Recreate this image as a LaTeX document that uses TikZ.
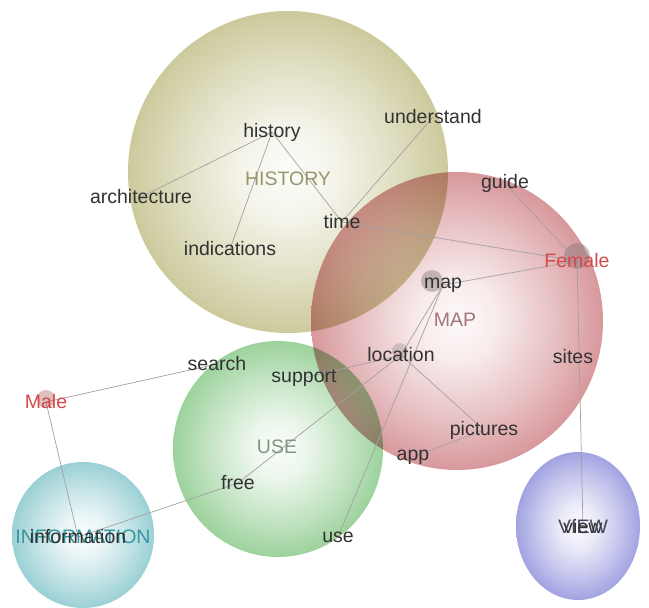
\documentclass[tikz,border=0pt]{standalone}
\usepackage{fontspec}
\setmainfont{Liberation Sans}

% soft sphere shading; its colour is read from "ballc" at use time
\pgfdeclareradialshading[ballc]{softball}{\pgfpoint{0bp}{0bp}}{%
  color(0bp)=(ballc!5!white);
  color(7bp)=(ballc!20!white);
  color(17bp)=(ballc!62!white);
  color(25bp)=(ballc);
  color(50bp)=(ballc)}

\pgfdeclarelayer{spheres}
\pgfdeclarelayer{links}
\pgfsetlayers{spheres,links,main}

\definecolor{histc}{RGB}{204,202,156}
\definecolor{mapc}{RGB}{216,152,156}
\definecolor{usec}{RGB}{156,210,156}
\definecolor{infoc}{RGB}{154,208,213}
\definecolor{viewc}{RGB}{162,162,226}
\definecolor{wordc}{RGB}{50,50,50}
\definecolor{edgec}{RGB}{165,160,160}
\definecolor{sexc}{RGB}{214,72,72}
\definecolor{histlab}{RGB}{150,150,108}
\definecolor{maplab}{RGB}{165,115,125}
\definecolor{uselab}{RGB}{128,150,128}
\definecolor{infolab}{RGB}{55,150,160}
\definecolor{viewlab}{RGB}{70,70,90}
\definecolor{blobc}{RGB}{135,120,122}

\newcommand{\wordfont}{\fontsize{19.5}{22}\selectfont}

\begin{document}
\begin{tikzpicture}[x=1pt,y=-1pt,
  word/.style={font=\wordfont, text=wordc, inner sep=0pt},
  theme/.style={font=\wordfont, inner sep=0pt},
  sex/.style={font=\wordfont, text=sexc, inner sep=0pt},
  link/.style={draw=edgec, line width=0.7pt},
  blob/.style={fill=blobc, fill opacity=0.45, draw=none}]
\useasboundingbox (0,0) rectangle (649,608);

% theme spheres, multiplied where they overlap
\begin{pgfonlayer}{spheres}
\begin{scope}[blend group=multiply]
  \colorlet{ballc}{histc}
  \shade[shading=softball] (288,172) ellipse [x radius=160, y radius=161];
  \colorlet{ballc}{mapc}
  \shade[shading=softball] (457,321) ellipse [x radius=146, y radius=149];
  \colorlet{ballc}{usec}
  \shade[shading=softball] (278,449) ellipse [x radius=105, y radius=108];
  \colorlet{ballc}{infoc}
  \shade[shading=softball] (83,535) ellipse [x radius=71, y radius=73];
  \colorlet{ballc}{viewc}
  \shade[shading=softball] (578,526) ellipse [x radius=62, y radius=74];
\end{scope}
\end{pgfonlayer}

% node markers
\fill[blob] (577,256) circle (13);
\fill[blob] (432,281) circle (11);
\fill[blob, fill opacity=0.3] (400,351) circle (8);
\fill[blob, fill=sexc!55!blobc, fill opacity=0.4] (46,399) circle (9);

% theme labels
\node[theme, text=histlab] (HIST) at (288,179) {HISTORY};
\node[theme, text=maplab]  (MAPL) at (455,320) {MAP};
\node[theme, text=uselab]  (USEL) at (277,447) {USE};
\node[theme, text=infolab] (INFO) at (83,537) {INFORMATION};
\node[theme, text=viewlab] (VIEWL) at (583,527) {VIEW};

% words
\node[word] (history)      at (272,132) {history};
\node[word] (understand)   at (433,117) {understand};
\node[word] (architecture) at (141,197) {architecture};
\node[word] (time)         at (342,222) {time};
\node[word] (indications)  at (230,249) {indications};
\node[word] (guide)        at (505,183) {guide};
\node[sex]  (female)       at (577,261) {Female};
\node[word] (map)          at (443,285) {map};
\node[word] (location)     at (401,355) {location};
\node[word] (sites)        at (573,357) {sites};
\node[word] (search)       at (217,364) {search};
\node[word] (support)      at (304,378) {support};
\node[sex]  (male)         at (46,402) {Male};
\node[word] (pictures)     at (484,430) {pictures};
\node[word] (app)          at (413,457) {app};
\node[word] (free)         at (238,483) {free};
\node[word] (information)  at (78,537) {information};
\node[word] (use)          at (338,537) {use};
\node[word] (view)         at (583,527) {view};

% connections, under the words
\begin{pgfonlayer}{links}
\draw[link] (history.center) -- (architecture.center);
\draw[link] (history.center) -- (indications.center);
\draw[link] (history.center) -- (time.center);
\draw[link] (understand.center) -- (time.center);
\draw[link] (time.center) -- (female.center);
\draw[link] (guide.center) -- (female.center);
\draw[link] (map.center) -- (female.center);
\draw[link] (female.center) -- (view.center);
\draw[link] (map.center) -- (location.center);
\draw[link] (map.center) -- (use.center);
\draw[link] (location.center) -- (support.center);
\draw[link] (location.center) -- (free.center);
\draw[link] (location.center) -- (pictures.center);
\draw[link] (app.center) -- (pictures.center);
\draw[link] (free.center) -- (information.center);
\draw[link] (male.center) -- (information.center);
\draw[link] (male.center) -- (search.center);
\end{pgfonlayer}
\end{tikzpicture}
\end{document}
